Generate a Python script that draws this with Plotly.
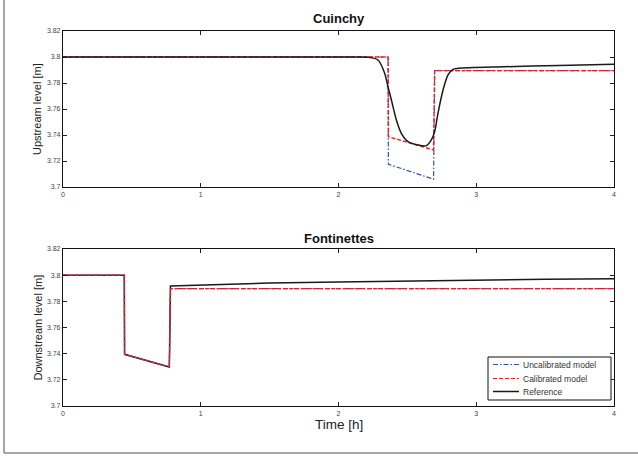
import plotly.graph_objects as go

# ---- data ----
# Cuinchy (upstream level)
t_top_models = [0, 2.36, 2.362, 2.69, 2.698, 4]
uncal_top = [3.8, 3.8, 3.7175, 3.7060, 3.7895, 3.7895]
calib_top = [3.8, 3.8, 3.7387, 3.7285, 3.7895, 3.7895]
t_top_ref = [0, 2.10, 2.214, 2.287, 2.335, 2.359, 2.384, 2.420, 2.456, 2.505, 2.577,
             2.638, 2.674, 2.698, 2.722, 2.759, 2.795, 2.831, 2.868, 3.2, 3.6, 4]
ref_top = [3.8, 3.8, 3.7998, 3.7977, 3.7875, 3.7772, 3.7669, 3.7515, 3.7413, 3.7349, 3.7323,
           3.7318, 3.7362, 3.7426, 3.7567, 3.7746, 3.7862, 3.7905, 3.7913, 3.7925, 3.7935, 3.7944]

# Fontinettes (downstream level)
t_bot_models = [0, 0.445, 0.447, 0.772, 0.78, 4]
uncal_bot = [3.8, 3.8, 3.7395, 3.7298, 3.7897, 3.7897]
calib_bot = [3.8, 3.8, 3.7395, 3.7298, 3.7897, 3.7897]
t_bot_ref = [0, 0.445, 0.447, 0.772, 0.78, 1.0, 1.5, 2.0, 2.5, 3.0, 3.5, 4.0]
ref_bot = [3.8, 3.8, 3.7395, 3.7298, 3.7917, 3.7925, 3.7940, 3.7948, 3.7956, 3.7963, 3.7968, 3.7973]

x_ticks = [0, 1, 2, 3, 4]
y_ticks = [3.7, 3.72, 3.74, 3.76, 3.78, 3.8, 3.82]
y_ticktext = ["3.7", "3.72", "3.74", "3.76", "3.78", "3.8", "3.82"]

names = ["Uncalibrated model", "Calibrated model", "Reference"]
BLUE = "#2f4fb0"
RED = "#ff1a1a"
BLACK = "#1a1a1a"
DASHDOT = "5px,2px,1.5px,2px"
DASH = "4px,2px"

fig = go.Figure()

# top panel
fig.add_trace(go.Scatter(x=t_top_models, y=uncal_top, mode="lines", name=names[0],
                         line=dict(color=BLUE, width=1.2, dash=DASHDOT),
                         xaxis="x", yaxis="y", showlegend=False))
fig.add_trace(go.Scatter(x=t_top_models, y=calib_top, mode="lines", name=names[1],
                         line=dict(color=RED, width=1.4, dash=DASH),
                         xaxis="x", yaxis="y", showlegend=False))
fig.add_trace(go.Scatter(x=t_top_ref, y=ref_top, mode="lines", name=names[2],
                         line=dict(color=BLACK, width=1.5, shape="spline", smoothing=0.8),
                         xaxis="x", yaxis="y", showlegend=False))

# bottom panel
fig.add_trace(go.Scatter(x=t_bot_ref, y=ref_bot, mode="lines", name=names[2],
                         line=dict(color=BLACK, width=1.5),
                         xaxis="x2", yaxis="y2", showlegend=False))
fig.add_trace(go.Scatter(x=t_bot_models, y=uncal_bot, mode="lines", name=names[0],
                         line=dict(color=BLUE, width=1.2, dash=DASHDOT),
                         xaxis="x2", yaxis="y2", showlegend=False))
fig.add_trace(go.Scatter(x=t_bot_models, y=calib_bot, mode="lines", name=names[1],
                         line=dict(color=RED, width=1.2, dash=DASH),
                         xaxis="x2", yaxis="y2", showlegend=False))

tickfont = dict(family="Liberation Sans, Arial", size=7, color="#444444")
xcommon = dict(range=[0, 4], tickvals=x_ticks, ticks="inside", ticklen=4, tickwidth=1,
               tickcolor="#222222", showline=True, linecolor="#111111", linewidth=1.2,
               mirror="ticks", showgrid=False, zeroline=False, tickfont=tickfont)
ycommon = dict(range=[3.7, 3.82], tickvals=y_ticks, ticktext=y_ticktext, ticks="inside",
               ticklen=4, tickwidth=1, tickcolor="#222222", showline=True,
               linecolor="#111111", linewidth=1.2, mirror="ticks", showgrid=False,
               zeroline=False, tickfont=tickfont)

fig.update_layout(
    width=638, height=456,
    margin=dict(l=63, r=24, t=31, b=50),
    paper_bgcolor="white", plot_bgcolor="white",
    font=dict(family="Liberation Sans, Arial", color="#222222"),
    xaxis=dict(domain=[0, 1], anchor="y", **xcommon),
    yaxis=dict(domain=[0.584, 1], anchor="x", **ycommon),
    xaxis2=dict(domain=[0, 1], anchor="y2", **xcommon),
    yaxis2=dict(domain=[0, 0.4187], anchor="x2", **ycommon),
    showlegend=False,
)

W, H, L, B = 551.0, 375.0, 63.0, 50.0
def px(xp):
    return (xp - L) / W
def py(yp):
    return (456 - B - yp) / H

ann = dict(xref="paper", yref="paper", showarrow=False)
fig.add_annotation(text="<b>Cuinchy</b>", x=0.5, y=py(19), xanchor="center", yanchor="middle",
                   font=dict(size=13, color="#111111"), **ann)
fig.add_annotation(text="<b>Fontinettes</b>", x=0.5, y=py(238), xanchor="center", yanchor="middle",
                   font=dict(size=13, color="#111111"), **ann)
fig.add_annotation(text="Time [h]", x=0.5, y=py(424), xanchor="center", yanchor="middle",
                   font=dict(size=13.5, color="#222222"), **ann)
fig.add_annotation(text="Upstream level [m]", x=px(37), y=py(109), xanchor="center",
                   yanchor="middle", textangle=-90, font=dict(size=11, color="#222222"), **ann)
fig.add_annotation(text="Downstream level [m]", x=px(37), y=py(327.5), xanchor="center",
                   yanchor="middle", textangle=-90, font=dict(size=11, color="#222222"), **ann)

# custom legend (compact, like the reference)
fig.add_shape(type="rect", xref="paper", yref="paper", x0=px(488), x1=px(611), y0=py(400),
              y1=py(357), line=dict(color="#111111", width=1), fillcolor="white", layer="above")
leg_y = [364.5, 378.5, 391.5]
leg_styles = [dict(color=BLUE, width=1.2, dash=DASHDOT), dict(color=RED, width=1.2, dash=DASH),
              dict(color=BLACK, width=1.5)]
for name, yy, st in zip(names, leg_y, leg_styles):
    fig.add_shape(type="line", xref="paper", yref="paper", x0=px(493), x1=px(519),
                  y0=py(yy), y1=py(yy), line=st, layer="above")
    fig.add_annotation(text=name, x=px(521), y=py(yy), xanchor="left", yanchor="middle",
                       font=dict(size=8.5, color="#333333"), **ann)

# outer frame (left and bottom)
fig.add_shape(type="line", xref="paper", yref="paper", x0=px(4), x1=px(4), y0=py(453),
              y1=py(-5), line=dict(color="#888888", width=1.5))
fig.add_shape(type="line", xref="paper", yref="paper", x0=px(4), x1=px(645), y0=py(453),
              y1=py(453), line=dict(color="#888888", width=1.5))

fig.write_html("out.html")
